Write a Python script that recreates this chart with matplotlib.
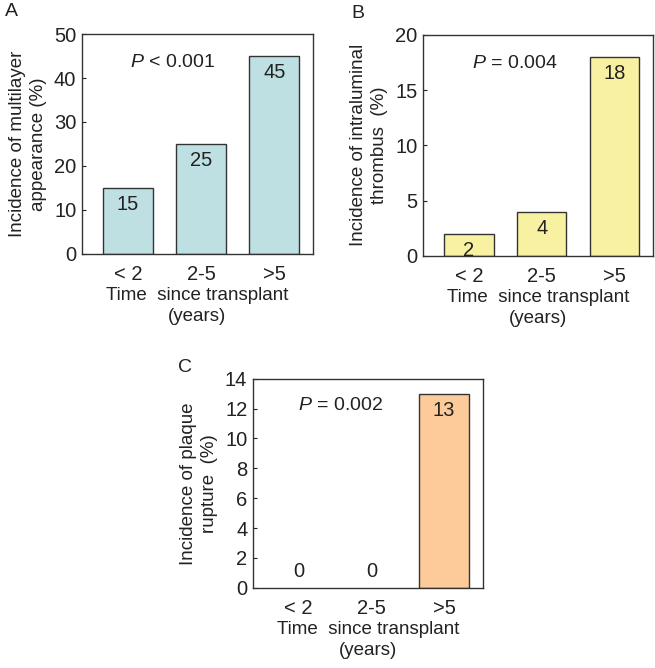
import matplotlib
matplotlib.use("Agg")
import matplotlib.pyplot as plt

plt.rcParams['font.family'] = ['Liberation Sans', 'DejaVu Sans']
plt.rcParams['mathtext.fontset'] = 'custom'
plt.rcParams['mathtext.it'] = 'Liberation Sans:italic'
plt.rcParams['mathtext.rm'] = 'Liberation Sans'

# data
groups = ['< 2', '2-5', '>5']
multilayer = [15, 25, 45]
thrombus = [2, 4, 18]
rupture = [0, 0, 13]

panels = [
    # letter, values, ylabel, p text, ylim, yticks, color, axes rect, letter pos, p x
    ('A', multilayer, 'Incidence of multilayer\nappearance (%)', r'$\it{P}$ < 0.001',
     50, range(0, 51, 10), '#bfe0e3', [0.125, 0.620, 0.353, 0.329], (0.008, 0.995), 0.39),
    ('B', thrombus, 'Incidence of intraluminal\nthrombus  (%)', r'$\it{P}$ = 0.004',
     20, range(0, 21, 5), '#f9f1a2', [0.646, 0.617, 0.351, 0.331], (0.536, 0.993), 0.40),
    ('C', rupture, 'Incidence of plaque\nrupture  (%)', r'$\it{P}$ = 0.002',
     14, range(0, 15, 2), '#fccb99', [0.386, 0.120, 0.351, 0.313], (0.271, 0.462), 0.38),
]

fig = plt.figure(figsize=(6.55, 6.68), dpi=100)
txt = '#222222'

for letter, vals, ylab, ptxt, ymax, yt, col, rect, lpos, px in panels:
    ax = fig.add_axes(rect)
    x = range(len(groups))
    bars = ax.bar(x, vals, width=0.68, color=col, edgecolor='#333333', linewidth=1.0)
    for b, v in zip(bars, vals):
        if v == 0:
            b.set_visible(False)
    ax.set_xlim(-0.63, 2.53)
    ax.set_ylim(0, ymax)
    ax.set_yticks(list(yt))
    ax.set_xticks(list(x))
    ax.set_xticklabels(groups)
    ax.tick_params(axis='x', length=0, labelsize=14.5, colors=txt, pad=8)
    ax.tick_params(axis='y', direction='in', length=3, width=0.8, labelsize=14.5,
                   colors=txt, labelcolor=txt, pad=4)
    for s in ax.spines.values():
        s.set_color('#333333')
        s.set_linewidth(1.0)
    ax.set_ylabel(ylab, fontsize=13.5, color=txt, labelpad=5, linespacing=1.3)
    ax.set_xlabel('Time  since transplant\n(years)', fontsize=13.5, color=txt,
                  labelpad=2, linespacing=1.3)
    for xi, v in zip(x, vals):
        if v == 0:
            ax.annotate(str(v), (xi, 0), xytext=(0, 11.5), textcoords='offset points',
                        ha='center', va='center', fontsize=14.5, color=txt)
        else:
            ax.annotate(str(v), (xi, v), xytext=(0, -12), textcoords='offset points',
                        ha='center', va='center', fontsize=14.5, color=txt)
    ax.text(px, 0.87, ptxt, transform=ax.transAxes, ha='center', va='center',
            fontsize=14, color=txt)
    fig.text(lpos[0], lpos[1], letter, fontsize=14, ha='left', va='top', color=txt)

fig.savefig('out.png', dpi=100)
